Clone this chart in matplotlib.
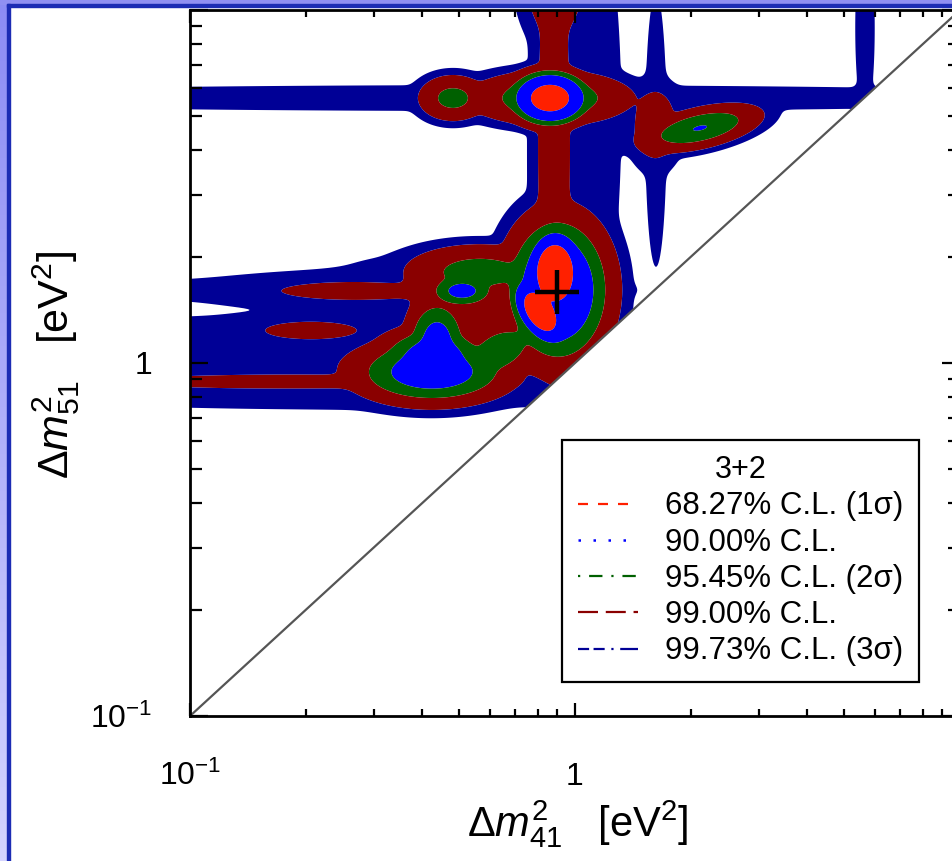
"""
3+2 sterile neutrino fit: allowed regions in the (dm41^2, dm51^2) plane
"""

import matplotlib.pyplot as plt
import numpy as np
from matplotlib.colors import LinearSegmentedColormap
from matplotlib.lines import Line2D
from matplotlib.patches import Rectangle
from matplotlib.ticker import FixedLocator, FixedFormatter, LogLocator, NullFormatter

plt.rcParams['font.family'] = ['Liberation Sans', 'DejaVu Sans']
plt.rcParams['mathtext.fontset'] = 'custom'
plt.rcParams['mathtext.rm'] = 'Liberation Sans'
plt.rcParams['mathtext.it'] = 'Liberation Sans:italic'
plt.rcParams['mathtext.bf'] = 'Liberation Sans:bold'

# Delta chi^2 levels (2 d.o.f.) and their fill colours
cl_labels = ['68.27% C.L. (1σ)', '90.00% C.L.', '95.45% C.L. (2σ)',
             '99.00% C.L.', '99.73% C.L. (3σ)']
cl_dchi2 = [2.30, 4.61, 6.18, 9.21, 11.83]
cl_colors = ['#ff2000', '#0000ff', '#006000', '#8a0000', '#000096']

# best fit point
bestfit_dm41 = [0.90]
bestfit_dm51 = [1.59]

# chi^2 valleys read off the allowed regions:
# centre (eV^2), widths (decades), tilt (deg), Delta chi^2 at the bottom
comp_dm41 = [0.887, 0.811, 0.903, 0.861, 0.861, 0.882, 0.887, 1.147,
             1.623, 5.665, 0.631, 0.482, 2.112, 1.614,
             0.425, 0.438, 0.430, 0.566, 0.639, 0.533,
             0.251, 0.251, 0.178, 0.2635, 0.205, 0.331, 0.509]
comp_dm51 = [1.810, 1.395, 1.610, 5.63, 5.63, 4.01, 12.16, 5.01,
             4.57, 8.89, 5.63, 5.63, 4.63, 4.72,
             0.943, 1.162, 1.054, 1.810, 1.088, 1.507,
             1.610, 1.006, 0.884, 1.600, 1.240, 1.324, 1.600]
comp_w41 = [0.030, 0.025, 0.065, 0.046, 0.105, 0.035, 0.050, 0.055,
            0.025, 0.025, 1.500, 0.047, 0.080, 0.040,
            0.100, 0.040, 0.070, 0.100, 0.060, 0.120,
            0.600, 1.000, 0.450, 0.240, 0.155, 0.200, 0.045]
comp_w51 = [0.050, 0.045, 0.100, 0.035, 0.038, 0.500, 0.100, 0.500,
            0.350, 0.250, 0.033, 0.034, 0.028, 0.070,
            0.045, 0.060, 0.040, 0.040, 0.040, 0.070,
            0.030, 0.090, 0.020, 0.034, 0.032, 0.160, 0.025]
comp_tilt = [0, 30, 0, 0, 0, 0, 0, 0,
             0, 0, 0, 0, 14, 0,
             0, 0, 0, 0, 30, 0,
             0, 0, 0, 0, 0, 0, 0]
comp_depth = [0.0, 0.6, 2.6, 1.15, 4.8, 7.8, 7.0, 10.6,
              10.6, 10.8, 10.6, 5.5, 4.55, 7.5,
              3.5, 3.9, 3.7, 5.3, 5.0, 8.0,
              10.4, 9.6, 8.4, 8.7, 8.7, 10.6, 4.0]

# Delta chi^2 surface on a log grid (smooth minimum over the valleys)
lu, lv = np.meshgrid(np.linspace(-1, 1, 900), np.linspace(-1, 1.02, 900))
soft = 0.6
acc = np.zeros_like(lu)
for x0, y0, su, sv, tilt, c in zip(comp_dm41, comp_dm51, comp_w41, comp_w51,
                                   comp_tilt, comp_depth):
    du = lu - np.log10(x0)
    dv = lv - np.log10(y0)
    t = np.radians(tilt)
    a = du * np.cos(t) + dv * np.sin(t)
    b = -du * np.sin(t) + dv * np.cos(t)
    acc += np.exp(-(c + (a / su) ** 2 + (b / sv) ** 2) / soft)
dchi2 = -soft * np.log(np.maximum(acc, 1e-300))
dchi2 -= dchi2.min()
dchi2 = np.ma.masked_where(lv < lu, dchi2)

fig = plt.figure(figsize=(9.52, 8.61), dpi=100)
ax = fig.add_axes([190 / 952, 145 / 861, 770 / 952, 706 / 861])

ax.contourf(10 ** lu, 10 ** lv, dchi2, levels=[0] + cl_dchi2, colors=cl_colors,
            antialiased=True)
ax.plot([0.1, 10], [0.1, 10], color='#555555', lw=1.6)
ax.plot(bestfit_dm41, bestfit_dm51, marker='+', ms=32, mew=3.2, color='black',
        linestyle='none')

ax.set_xscale('log')
ax.set_yscale('log')
ax.set_xlim(0.1, 10)
ax.set_ylim(0.1, 10)

for axis in (ax.xaxis, ax.yaxis):
    axis.set_major_locator(FixedLocator([0.1, 1, 10]))
    axis.set_major_formatter(FixedFormatter(['$10^{-1}$', '1', '']))
    axis.set_minor_locator(LogLocator(base=10, subs=np.arange(2, 10)))
    axis.set_minor_formatter(NullFormatter())

ax.tick_params(which='both', direction='in', top=True, right=True, width=1.6,
               labelsize=23, colors='black')
ax.tick_params(axis='x', which='major', length=9.5, pad=50)
ax.tick_params(axis='x', which='minor', length=5)
ax.tick_params(axis='y', which='major', length=13, pad=27)
ax.tick_params(axis='y', which='minor', length=8.6)
for lab in ax.get_xticklabels():
    lab.set_va('baseline')
for sp in ax.spines.values():
    sp.set_linewidth(2.0)

ax.set_xlabel(r'$\Delta m^2_{41}$   [eV$^2$]', fontsize=30)
ax.set_ylabel(r'$\Delta m^2_{51}$   [eV$^2$]', fontsize=31)
ax.xaxis.set_label_coords(0.503, -0.116)
ax.yaxis.set_label_coords(-0.140, 0.497)

handles = [
    Line2D([], [], color=cl_colors[0], lw=1.6, linestyle=(0, (4.5, 4.5))),
    Line2D([], [], color=cl_colors[1], lw=1.8, linestyle=(0, (1, 5))),
    Line2D([], [], color=cl_colors[2], lw=1.6, linestyle=(0, (1, 4, 6, 4))),
    Line2D([], [], color=cl_colors[3], lw=1.6, linestyle=(0, (9, 3.5, 9, 3.5, 4, 3.5))),
    Line2D([], [], color=cl_colors[4], lw=1.6, linestyle=(0, (5, 2, 5, 3, 1, 3, 11, 2))),
]
leg = ax.legend(handles, cl_labels, title='3+2', loc='lower left',
                bbox_to_anchor=(0.483, 0.048), borderaxespad=0, fontsize=22.5,
                title_fontsize=22, handlelength=1.95, handletextpad=0.85,
                labelspacing=0.2, borderpad=0.5, fancybox=False,
                edgecolor='black', framealpha=1)
leg.get_frame().set_linewidth(1.6)

# slide frame around the picture
grad = fig.add_axes([0, 0, 7 / 952, 1])
grad.imshow(np.linspace(0, 1, 256)[:, None], aspect='auto',
            cmap=LinearSegmentedColormap.from_list('frame', ['#8c8cf4', '#d4d4ff']))
grad.axis('off')
fig.add_artist(Rectangle((0, 857 / 861), 1, 4 / 861, transform=fig.transFigure,
                         color='#9090f2', zorder=5))
fig.add_artist(Rectangle((7 / 952, 0), 2.5 / 952, 857 / 861,
                         transform=fig.transFigure, color='#1c2cb4', zorder=6))
fig.add_artist(Rectangle((7 / 952, 854.5 / 861), 1 - 7 / 952, 2.5 / 861,
                         transform=fig.transFigure, color='#1c2cb4', zorder=6))

plt.savefig('out.png', dpi=100)
plt.close()
